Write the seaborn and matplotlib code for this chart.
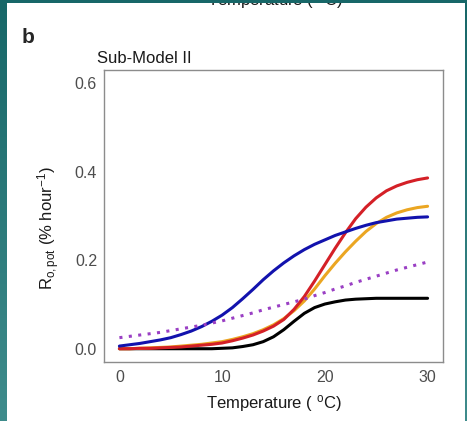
import matplotlib
matplotlib.use("Agg")
import matplotlib.pyplot as plt
import numpy as np
import pandas as pd
import seaborn as sns

#%% Data (temperature in degC, rate in % per hour)
temperature = list(range(0, 31))

rate_red = [0.000, 0.000, 0.001, 0.001, 0.002, 0.003, 0.004, 0.006, 0.008, 0.010,
            0.013, 0.018, 0.024, 0.031, 0.040, 0.051, 0.066, 0.089, 0.118, 0.153,
            0.190, 0.227, 0.262, 0.294, 0.320, 0.341, 0.357, 0.368, 0.376, 0.382,
            0.386]
rate_orange = [0.000, 0.000, 0.001, 0.002, 0.003, 0.004, 0.006, 0.008, 0.010, 0.013,
               0.016, 0.021, 0.027, 0.034, 0.043, 0.054, 0.068, 0.086, 0.108, 0.135,
               0.165, 0.193, 0.219, 0.243, 0.265, 0.283, 0.297, 0.307, 0.314, 0.319,
               0.322]
rate_blue = [0.006, 0.009, 0.012, 0.016, 0.020, 0.025, 0.032, 0.040, 0.050, 0.062,
             0.076, 0.093, 0.113, 0.134, 0.156, 0.176, 0.194, 0.210, 0.224, 0.236,
             0.246, 0.256, 0.264, 0.272, 0.279, 0.285, 0.289, 0.293, 0.295, 0.297,
             0.298]
rate_black = [0.000, 0.000, 0.000, 0.000, 0.000, 0.000, 0.000, 0.000, 0.000, 0.000,
              0.001, 0.002, 0.005, 0.009, 0.016, 0.027, 0.043, 0.062, 0.080, 0.093,
              0.101, 0.106, 0.110, 0.112, 0.113, 0.114, 0.114, 0.114, 0.114, 0.114,
              0.114]
rate_purple = [0.025, 0.028, 0.031, 0.034, 0.037, 0.041, 0.045, 0.049, 0.053, 0.058,
               0.063, 0.069, 0.075, 0.081, 0.088, 0.094, 0.100, 0.106, 0.112, 0.120,
               0.127, 0.135, 0.142, 0.150, 0.157, 0.164, 0.171, 0.178, 0.184, 0.190,
               0.196]

y_ticks = [0.0, 0.2, 0.4, 0.6]
x_ticks = [0, 10, 20, 30]

#%% Styling
sns.set_style("white")
plt.rcParams['font.family'] = ['Liberation Sans', 'DejaVu Sans']
plt.rcParams['mathtext.fontset'] = 'custom'
plt.rcParams['mathtext.rm'] = 'Liberation Sans'
plt.rcParams['mathtext.it'] = 'Liberation Sans:italic'

W, H = 467, 421
fig = plt.figure(figsize=(W / 100, H / 100), dpi=100)
fig.patch.set_facecolor('white')

ax = fig.add_axes([104 / W, 1 - 362 / H, (443 - 104) / W, (362 - 70) / H])

series = [
    (rate_black, '#000000'),
    (rate_orange, '#eba622'),
    (rate_red, '#d42027'),
    (rate_blue, '#1212ad'),
]
for vals, col in series:
    sns.lineplot(x=temperature, y=vals, color=col, linewidth=2.2, ax=ax)

# dotted purple line
sns.lineplot(x=temperature, y=rate_purple, color='#9a3fc4', linewidth=2.2,
             linestyle=(0, (1, 2.1)), ax=ax)

ax.set_xlim(-1.5, 31.5)
ax.set_ylim(-0.03, 0.63)
ax.set_xticks(x_ticks)
ax.set_yticks(y_ticks)
ax.set_yticklabels([f"{v:.1f}" for v in y_ticks])

for sp in ax.spines.values():
    sp.set_color('#8c8c8c')
    sp.set_linewidth(1.0)
ax.tick_params(axis='both', colors='#8c8c8c', labelcolor='#4d4d4d',
               length=3.5, width=0.9, labelsize=11.5, direction='out')
ax.tick_params(axis='y', pad=1.5)
ax.tick_params(axis='x', pad=2.5)

ax.set_xlabel("Temperature ( $^{\\mathrm{o}}$C)", fontsize=12, color='#1a1a1a')
ax.set_ylabel("R$_{\\mathrm{o,pot}}$ (% hour$^{-1}$)", fontsize=12, color='#1a1a1a')
ax.yaxis.set_label_coords(-0.125, 0.46)
ax.xaxis.set_label_coords(0.5, -0.105)

# titles
fig.text(97 / W, 1 - 63 / H, "Sub-Model II", fontsize=12, color='#1a1a1a',
         va='baseline', ha='left')
fig.text(22 / W, 1 - 43 / H, "b", fontsize=15, fontweight='bold',
         va='baseline', ha='left')

# label of the panel above, mostly hidden under the page edge
fig.text(275 / W, 1 - 5 / H, "Temperature ( $^{\\mathrm{o}}$C)", fontsize=12,
         color='#1a1a1a', va='baseline', ha='center', zorder=0)

# teal page border (gradient strips), drawn above the clipped label
grad = np.linspace(0, 1, 256).reshape(-1, 1)
cmap = matplotlib.colors.LinearSegmentedColormap.from_list(
    'teal', ['#176768', '#3f8c8c'])
left = fig.add_axes([0, 0, 7 / W, 1], zorder=5)
left.imshow(grad, aspect='auto', cmap=cmap)
left.set_axis_off()
right = fig.add_axes([1 - 2 / W, 0, 2 / W, 1], zorder=5)
right.imshow(grad, aspect='auto', cmap=cmap)
right.set_axis_off()
top = fig.add_axes([0, 1 - 3 / H, 1, 3 / H], zorder=5)
top.imshow(np.zeros((1, 10)), aspect='auto', cmap=cmap, vmin=0, vmax=1)
top.set_axis_off()

fig.savefig("out.png", dpi=100)
